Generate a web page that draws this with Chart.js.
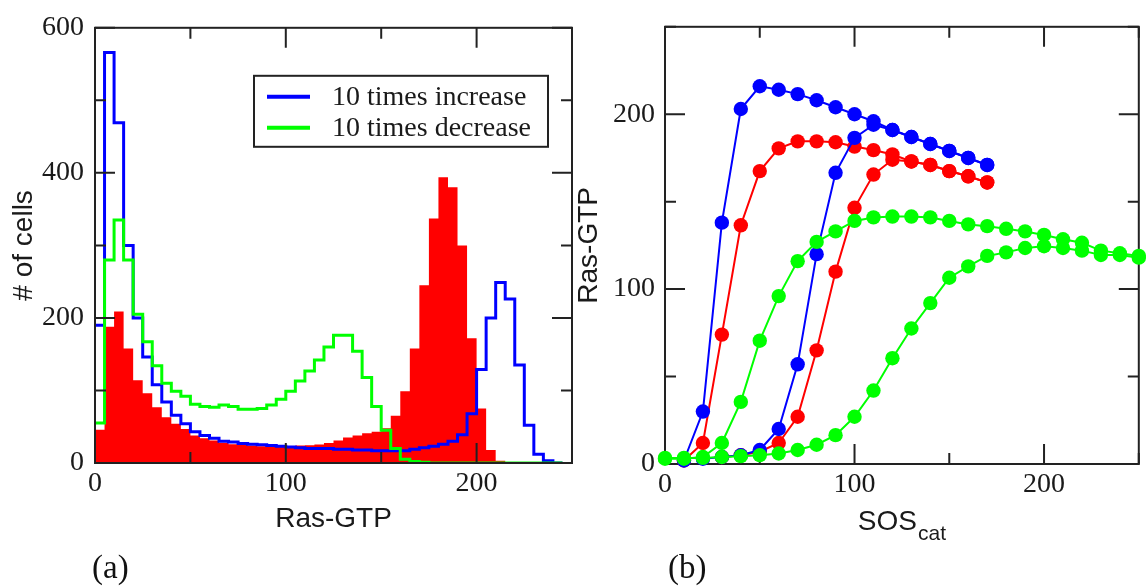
<!DOCTYPE html>
<html lang="en">
<head>
<meta charset="UTF-8">
<title>Ras-GTP distributions and SOS response</title>
<script src="https://cdn.jsdelivr.net/npm/chart.js"></script>
<style>
  body { margin: 0; background: #fff; }
  #wrap { position: relative; width: 1146px; height: 587px; overflow: hidden; }
  canvas { position: absolute; top: 0; }
  #histChart { left: 0; }
  #sosChart { left: 560px; }
  .panel-tag {
    position: absolute; top: 551px; line-height: 1;
    font-family: 'Liberation Serif', serif; font-size: 33px; color: #111;
  }
</style>
</head>
<body>
<div id="wrap">
  <canvas id="histChart" width="600" height="587"></canvas>
  <canvas id="sosChart" width="586" height="587"></canvas>
  <div class="panel-tag" style="left:92px">(a)</div>
  <div class="panel-tag" style="left:668px">(b)</div>
</div>
<script>
// ---- panel (a): histogram bins of Ras-GTP (bin edges, width 5)
const rasEdges = [0, 5, 10, 15, 20, 25, 30, 35, 40, 45, 50, 55, 60, 65, 70, 75, 80, 85, 90, 95,
  100, 105, 110, 115, 120, 125, 130, 135, 140, 145, 150, 155, 160, 165, 170, 175, 180, 185, 190, 195,
  200, 205, 210, 215, 220, 225, 230, 235, 240, 245, 250];

// # of cells per bin
const cellsIncrease = [190, 566, 469, 300, 200, 146, 108, 84, 66, 54,
  43, 38, 34, 30, 29, 27, 26, 25, 24, 23,
  22, 21, 20, 20, 20, 19, 19, 18, 18, 17,
  17, 17, 17, 19, 21, 23, 26, 30, 39, 68,
  129, 200, 249, 226, 135, 52, 12, 3, 0];
const cellsDecrease = [55, 280, 335, 280, 205, 167, 134, 110, 99, 92,
  81, 78, 77, 80, 78, 74, 74, 75, 80, 88,
  99, 113, 127, 142, 160, 176, 176, 154, 118, 78,
  45, 20, 5, 2, 1, 0, 0, 0, 0, 0,
  0, 0, 0, 0, 0, 0, 0, 0, 0];
const cellsControl = [46, 188, 209, 158, 114, 96, 77, 63, 54, 47,
  38, 34, 31, 28, 26, 25, 24, 23, 22, 22,
  22, 24, 24.5, 25.5, 27.5, 31, 35, 38, 41, 43,
  48, 65, 99, 158, 245, 337, 394, 380, 300, 172,
  75, 18, 3, 0, 0, 0, 0, 0, 0, 0];

// ---- panel (b): Ras-GTP vs SOScat, two branches per colour
const sosLevels = [0, 10, 20, 30, 40, 50, 60, 70, 80, 90, 100, 110, 120, 130, 140, 150, 160, 170, 180, 190, 200, 210, 220, 230, 240, 250];
const rasBlueHigh = [null, 2, 30, 138, 203, 216, 214, 211.5, 208, 204, 200, 196, 191, 187, 183, 179, 175, 171, null, null, null, null, null, null, null, null];
const rasBlueLow = [null, null, 3, 4, 5, 8, 20, 57, 120, 166.5, 186.5, 194, 191, 187, 183, 179, 175, 171, null, null, null, null, null, null, null, null];
const rasRedHigh = [null, 2, 12, 74, 136.5, 167.5, 180.5, 184.5, 184.5, 184, 181.5, 179.5, 177, 173, 171, 167.5, 164.5, 161, null, null, null, null, null, null, null, null];
const rasRedLow = [null, null, null, 4, 5, 7, 12, 27, 65, 110, 146.5, 165.5, 174, 173, 171, 167.5, 164.5, 161, null, null, null, null, null, null, null, null];
const rasGreenHigh = [3, 3, 4, 12, 35.5, 70.5, 96, 116, 127, 133, 139, 141, 141.5, 141.5, 141, 139, 137, 136, 134.5, 133, 131, 128.5, 126.5, 122, 120.5, 119];
const rasGreenLow = [3.5, 3.5, 3.5, 4, 4.5, 5, 6, 8, 11, 16.5, 27, 42, 60.5, 77.5, 92, 106.5, 113, 119, 121, 123.5, 124.5, 123.5, 122, 119.5, 119.5, 118];

// tick values
const histXTicks = [0, 100, 200], histXMinor = [50, 150, 250];
const histYTicks = [0, 200, 400, 600], histYMinor = [100, 300, 500];
const sosXTicks = [0, 100, 200], sosXMinor = [50, 150, 250];
const sosYTicks = [0, 100, 200], sosYMinor = [50, 150, 250];

const BLUE = '#0000ff', GREEN = '#00ff00', RED = '#ff0000', INK = '#1a1a1a';
const serif = "'Liberation Serif', 'Times New Roman', serif";
const sans = "'Liberation Sans', Arial, sans-serif";

function steps(vals) {
  const pts = vals.map((v, i) => ({ x: rasEdges[i], y: v }));
  pts.push({ x: rasEdges[vals.length], y: vals[vals.length - 1] });
  return pts;
}
function curve(vals) {
  return sosLevels.map((x, i) => ({ x: x, y: vals[i] })).filter(p => p.y !== null);
}

// frame with inward ticks on all four sides
function frameTicks(xMajor, xMinor, yMajor, yMinor, onTop) {
  const draw = (chart) => {
    const { ctx, chartArea: a, scales: { x, y } } = chart;
    ctx.save();
    ctx.strokeStyle = '#222';
    ctx.lineWidth = 2;
    ctx.strokeRect(a.left, a.top, a.right - a.left, a.bottom - a.top);
    ctx.beginPath();
    const xt = (vals, len) => vals.forEach(v => {
      const px = x.getPixelForValue(v);
      ctx.moveTo(px, a.bottom); ctx.lineTo(px, a.bottom - len);
      ctx.moveTo(px, a.top); ctx.lineTo(px, a.top + len);
    });
    const yt = (vals, len) => vals.forEach(v => {
      const py = y.getPixelForValue(v);
      ctx.moveTo(a.left, py); ctx.lineTo(a.left + len, py);
      ctx.moveTo(a.right, py); ctx.lineTo(a.right - len, py);
    });
    xt(xMajor, 20); xt(xMinor, 11);
    yt(yMajor, 20); yt(yMinor, 11);
    ctx.stroke();
    ctx.restore();
  };
  return {
    id: 'frameTicks',
    beforeDatasetsDraw(chart) { if (!onTop) draw(chart); },
    afterDatasetsDraw(chart) { if (onTop) draw(chart); }
  };
}

// boxed legend inside panel (a)
const boxLegend = {
  id: 'boxLegend',
  afterDraw(chart) {
    const ctx = chart.ctx;
    const a = chart.chartArea;
    const items = chart.data.datasets.filter(d => d.inLegend);
    const bx = a.left + 159, by = a.top + 48;
    ctx.save();
    ctx.fillStyle = '#fff';
    ctx.fillRect(bx, by, 294, 71);
    ctx.strokeStyle = '#222';
    ctx.lineWidth = 2;
    ctx.strokeRect(bx, by, 294, 71);
    ctx.font = '28px ' + serif;
    ctx.textBaseline = 'middle';
    items.forEach((d, i) => {
      const yy = by + 21 + i * 31;
      ctx.strokeStyle = d.borderColor;
      ctx.lineWidth = 4;
      ctx.beginPath();
      ctx.moveTo(bx + 13, yy);
      ctx.lineTo(bx + 56, yy);
      ctx.stroke();
      ctx.fillStyle = INK;
      ctx.fillText(d.label, bx + 78, yy + 1);
    });
    ctx.restore();
  }
};

// SOS with subscript "cat" under panel (b)
const sosTitle = {
  id: 'sosTitle',
  afterDraw(chart) {
    const { ctx, chartArea: a } = chart;
    const big = '28px ' + sans, small = '21px ' + sans;
    ctx.save();
    ctx.fillStyle = INK;
    ctx.textBaseline = 'alphabetic';
    ctx.font = big;
    const w1 = ctx.measureText('SOS').width;
    ctx.font = small;
    const w2 = ctx.measureText('cat').width;
    const x0 = (a.left + a.right) / 2 - (w1 + w2 + 1) / 2;
    const base = a.bottom + 66;
    ctx.font = big;
    ctx.fillText('SOS', x0, base);
    ctx.font = small;
    ctx.fillText('cat', x0 + w1 + 1, base + 10);
    ctx.restore();
  }
};

const tickFont = { family: serif, size: 28, lineHeight: 1.2 };
const titleFont = { family: sans, size: 28, lineHeight: 1.2 };

function stepLine(label, vals, color, order, extra) {
  return Object.assign({
    label: label,
    data: steps(vals),
    stepped: 'before',
    borderColor: color,
    borderWidth: 3,
    borderJoinStyle: 'miter',
    pointRadius: 0,
    fill: false,
    order: order
  }, extra || {});
}

new Chart(document.getElementById('histChart'), {
  type: 'line',
  data: {
    datasets: [
      stepLine('10 times increase', cellsIncrease, BLUE, 1, { inLegend: true }),
      stepLine('10 times decrease', cellsDecrease, GREEN, 0, { inLegend: true }),
      stepLine('wild type', cellsControl, RED, 2, {
        borderWidth: 0, borderColor: 'rgba(0,0,0,0)', backgroundColor: RED, fill: 'origin'
      })
    ]
  },
  options: {
    responsive: false,
    animation: false,
    layout: { padding: { left: 0, right: 28, top: 21, bottom: 51 } },
    plugins: { legend: { display: false }, tooltip: { enabled: false } },
    scales: {
      x: {
        type: 'linear', min: 0, max: 250,
        grid: { display: false, drawTicks: false }, border: { display: false },
        afterBuildTicks: s => { s.ticks = histXTicks.map(v => ({ value: v })); },
        afterFit: s => { s.height = 73; },
        ticks: { font: tickFont, color: INK, padding: 4, maxRotation: 0, autoSkip: false },
        title: { display: true, text: 'Ras-GTP', font: titleFont, color: INK, padding: { top: 0, bottom: 0 } }
      },
      y: {
        type: 'linear', min: 0, max: 600,
        grid: { display: false, drawTicks: false }, border: { display: false },
        afterBuildTicks: s => { s.ticks = histYTicks.map(v => ({ value: v })); },
        afterFit: s => { s.width = 95; },
        ticks: { font: tickFont, color: INK, padding: 11 },
        title: { display: true, text: '# of cells', font: titleFont, color: INK, padding: { top: 7, bottom: 0 } }
      }
    }
  },
  plugins: [frameTicks(histXTicks, histXMinor, histYTicks, histYMinor, true), boxLegend]
});

function dotLine(label, vals, color, order) {
  return {
    label: label,
    data: curve(vals),
    borderColor: color,
    backgroundColor: color,
    pointBackgroundColor: color,
    pointBorderColor: color,
    borderWidth: 2,
    pointRadius: 7.2,
    pointBorderWidth: 0,
    tension: 0,
    clip: false,
    order: order
  };
}

new Chart(document.getElementById('sosChart'), {
  type: 'line',
  data: {
    datasets: [
      dotLine('10 times increase, upper branch', rasBlueHigh, BLUE, 3),
      dotLine('10 times increase, lower branch', rasBlueLow, BLUE, 2),
      dotLine('wild type, upper branch', rasRedHigh, RED, 5),
      dotLine('wild type, lower branch', rasRedLow, RED, 4),
      dotLine('10 times decrease, upper branch', rasGreenHigh, GREEN, 1),
      dotLine('10 times decrease, lower branch', rasGreenLow, GREEN, 0)
    ]
  },
  options: {
    responsive: false,
    animation: false,
    layout: { padding: { left: 0, right: 7, top: 19, bottom: 53 } },
    plugins: { legend: { display: false }, tooltip: { enabled: false } },
    scales: {
      x: {
        type: 'linear', min: 0, max: 250,
        grid: { display: false, drawTicks: false }, border: { display: false },
        afterBuildTicks: s => { s.ticks = sosXTicks.map(v => ({ value: v })); },
        afterFit: s => { s.height = 70; },
        ticks: { font: tickFont, color: INK, padding: 4, maxRotation: 0, autoSkip: false }
      },
      y: {
        type: 'linear', min: 0, max: 250,
        grid: { display: false, drawTicks: false }, border: { display: false },
        afterBuildTicks: s => { s.ticks = sosYTicks.map(v => ({ value: v })); },
        afterFit: s => { s.width = 105; },
        ticks: { font: tickFont, color: INK, padding: 10 },
        title: { display: true, text: 'Ras-GTP', font: titleFont, color: INK, padding: { top: 12, bottom: 0 } }
      }
    }
  },
  plugins: [frameTicks(sosXTicks, sosXMinor, sosYTicks, sosYMinor, false), sosTitle]
});
</script>
</body>
</html>
